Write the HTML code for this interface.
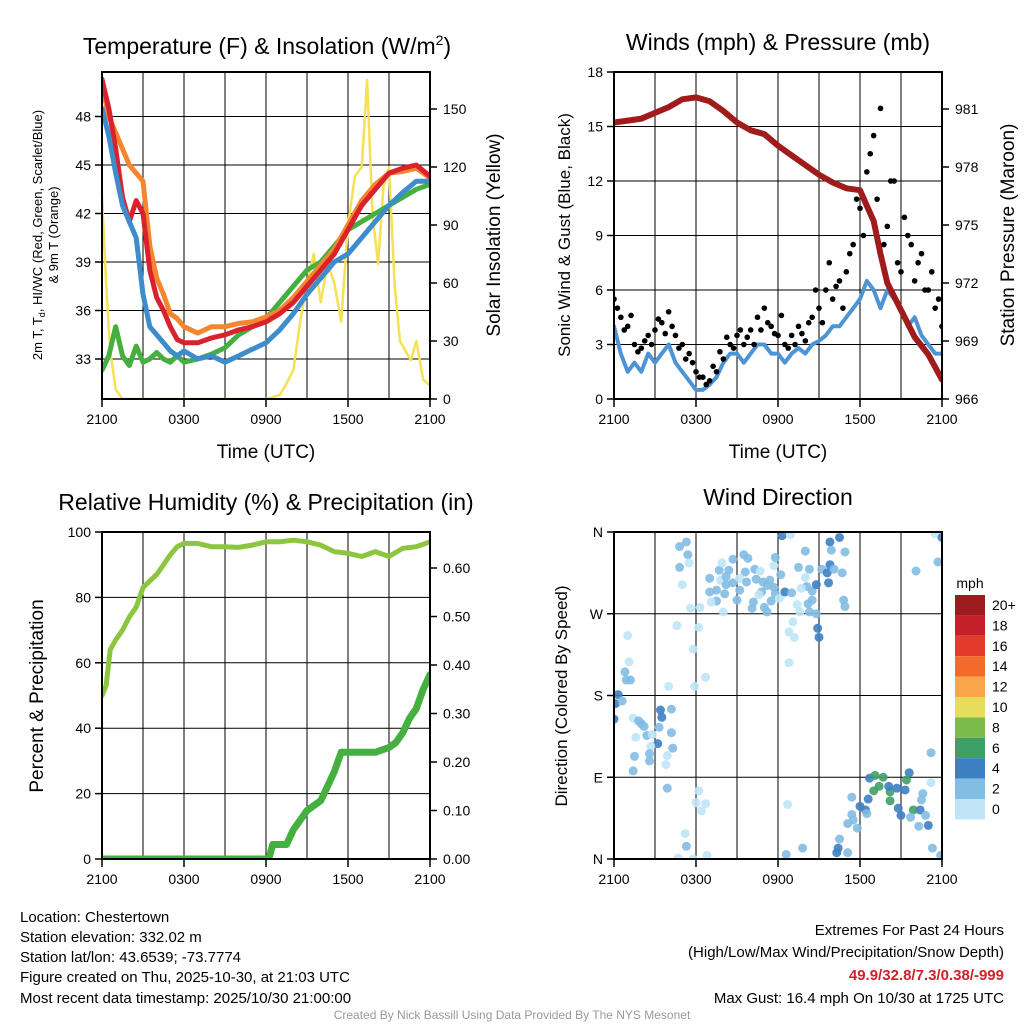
<!DOCTYPE html>
<html><head><meta charset="utf-8"><style>
body{margin:0;background:#fff;}
svg text{font-family:"Liberation Sans",sans-serif;fill:#000;}
</style></head><body>
<svg id="s" width="1024" height="1024" viewBox="0 0 1024 1024" xmlns="http://www.w3.org/2000/svg">
<defs>
<clipPath id="c1"><rect x="102" y="72" width="328" height="327"/></clipPath>
<clipPath id="c2"><rect x="614" y="72" width="328" height="327"/></clipPath>
<clipPath id="c3"><rect x="102" y="532" width="328" height="327"/></clipPath>
<clipPath id="c4"><rect x="614" y="532" width="328" height="327"/></clipPath>
</defs>
<rect width="1024" height="1024" fill="#fff"/>
<g id="grid"></g>
<g id="marks"></g>
<g id="axes"></g>
<text x="267" y="54" font-size="23" text-anchor="middle">Temperature (F) &amp; Insolation (W/m<tspan font-size="14" dy="-9">2</tspan><tspan dy="9">)</tspan></text>
<text x="778" y="50" font-size="23" text-anchor="middle">Winds (mph) &amp; Pressure (mb)</text>
<text x="266" y="510" font-size="23" text-anchor="middle">Relative Humidity (%) &amp; Precipitation (in)</text>
<text x="778" y="505" font-size="23" text-anchor="middle">Wind Direction</text>
<text x="266" y="458" font-size="19" text-anchor="middle">Time (UTC)</text>
<text x="778" y="458" font-size="19" text-anchor="middle">Time (UTC)</text>
<g transform="translate(42,235) rotate(-90)">
<text x="0" y="0" font-size="13" text-anchor="middle">2m T, T<tspan font-size="9" dy="3">d</tspan><tspan dy="-3">, HI/WC (Red, Green, Scarlet/Blue)</tspan></text>
<text x="0" y="16" font-size="13" text-anchor="middle">&amp; 9m T (Orange)</text></g>
<text transform="translate(500,235) rotate(-90)" font-size="19" text-anchor="middle">Solar Insolation (Yellow)</text>
<text transform="translate(570,235) rotate(-90)" font-size="17" text-anchor="middle">Sonic Wind &amp; Gust (Blue, Black)</text>
<text transform="translate(1014,235) rotate(-90)" font-size="19" text-anchor="middle">Station Pressure (Maroon)</text>
<text transform="translate(43,696) rotate(-90)" font-size="19" text-anchor="middle">Percent &amp; Precipitation</text>
<text transform="translate(567,696) rotate(-90)" font-size="17" text-anchor="middle">Direction (Colored By Speed)</text>
<text x="970" y="588" font-size="14" text-anchor="middle">mph</text>
<g id="cbar"></g>
<g font-size="15">
<text x="20" y="922">Location: Chestertown</text>
<text x="20" y="942">Station elevation: 332.02 m</text>
<text x="20" y="962">Station lat/lon: 43.6539; -73.7774</text>
<text x="20" y="982">Figure created on Thu, 2025-10-30, at 21:03 UTC</text>
<text x="20" y="1003">Most recent data timestamp: 2025/10/30 21:00:00</text>
</g>
<g font-size="15" text-anchor="end">
<text x="1004" y="935">Extremes For Past 24 Hours</text>
<text x="1004" y="957">(High/Low/Max Wind/Precipitation/Snow Depth)</text>
<text x="1004" y="980" font-weight="bold" style="fill:#d0202a">49.9/32.8/7.3/0.38/-999</text>
<text x="1004" y="1003">Max Gust: 16.4 mph On 10/30 at 1725 UTC</text>
</g>
<text x="512" y="1019" font-size="12" text-anchor="middle" style="fill:#999">Created By Nick Bassill Using Data Provided By The NYS Mesonet</text>
</svg>
<script>
// ---- data ----
var hT = [0,0.5,1,1.5,2,2.5,3,3.5,4,4.5,5,5.5,6,7,8,9,10,11,12,13,14,15,16,17,18,19,20,21,22,23,24];
var tempRed = [50.3,48.5,46,43,41.5,42.8,42,38.5,36.8,36,35,34.2,34,34,34.3,34.5,34.8,35,35.3,35.8,36.5,37.5,38.5,39.5,41,42.5,43.5,44.5,44.8,45,44.3];
var tempOrange = [50,48,47,46,45,44.5,44,40,38,37,35.8,35.5,35,34.6,35,35,35.2,35.3,35.6,36,36.8,37.8,38.8,39.8,41.3,42.8,43.8,44.5,44.6,44.8,44.2];
var tempBlue = [48.5,46.8,44.5,42.5,41.5,40.5,37,35,34.5,34,33.5,33.2,33.5,33,33.2,32.8,33.2,33.6,34,34.8,35.8,37,38,39,39.5,40.5,41.5,42.5,43.3,44,44];
var tempGreen = [32.3,33.2,35,33.2,32.6,33.8,32.8,33,33.4,33,32.8,33.2,32.8,33,33.3,33.7,34.5,35,35.5,36.5,37.5,38.5,39,40,41,41.5,42,42.5,43,43.5,43.8];
var hSun = [0,0.3,0.6,1,1.5,2,6,12,13,13.5,14,14.5,15,15.5,16,16.5,17,17.5,18,18.5,19,19.4,19.8,20.2,20.6,21,21.4,21.8,22.2,22.6,23,23.5,24];
var sunVals = [105,60,25,5,0,0,0,0,2,8,15,40,60,75,50,70,60,40,90,115,120,165,95,70,110,120,60,30,25,20,30,10,7];
var hHalf = [0,0.5,1,1.5,2,2.5,3,3.5,4,4.5,5,5.5,6,6.5,7,7.5,8,8.5,9,9.5,10,10.5,11,11.5,12,12.5,13,13.5,14,14.5,15,15.5,16,16.5,17,17.5,18,18.5,19,19.5,20,20.5,21,21.5,22,22.5,23,23.5,24];
var windVals = [4,2.5,1.5,2,1.5,2.5,2,2.5,3,2,1.5,1,0.5,0.5,0.8,1.2,2,2.5,2.5,2,2.5,3,3,2.5,2.5,2,2.5,2.8,2.5,3,3.2,3.5,4,4,4.5,5,5.5,6.5,6,5,6,5.5,5,4,4.5,3.5,3,2.5,2.5];
var gustVals = [5.5,4.5,4.0,3.0,2.8,3.5,3.8,4.2,4.8,3.5,3.0,2.5,1.5,1.2,1.0,1.5,2.2,3.0,3.5,3.0,3.8,4.5,5.0,4.0,3.5,3.0,3.5,4.0,3.2,4.5,5.0,6.0,5.5,6.5,7.0,8.5,10.5,12.5,14.5,16.0,9.5,12.0,7.0,9.0,6.5,8.0,6.0,5.0,4.0];
var gustVals2 = [5.0,3.8,4.6,2.6,3.2,3.0,4.4,3.6,4.0,2.8,2.2,2.0,1.2,0.8,1.8,2.6,3.4,2.8,3.8,3.4,3.0,3.8,4.2,3.6,4.6,2.8,3.0,3.6,4.2,6.0,4.2,7.5,6.2,5.0,8.0,11.0,9.0,13.5,11.0,8.5,12.0,7.5,10.0,8.5,7.5,6.0,7.0,5.5,3.5];
var hPres = [0,1,2,3,4,5,6,7,8,9,10,11,12,13,14,15,16,17,18,18.5,19,19.5,20,21,22,23,24];
var presVals = [980.3,980.4,980.5,980.8,981.1,981.5,981.6,981.4,980.9,980.3,979.9,979.7,979.1,978.6,978.1,977.6,977.2,976.9,976.8,976.0,975.2,973.5,972.0,970.6,969.2,968.3,967.0];
var hRH = [0,0.3,0.6,1,1.5,2,2.5,3,3.5,4,4.5,5,5.5,6,7,8,9,10,11,12,13,14,15,16,17,18,19,20,21,22,23,24];
var rhVals = [50,53,64,67,70,74,77,83,85,87,90,93,95.5,96.5,96.5,95.5,95.5,95.3,96,97,97,97.5,97,96,94,93.5,92.5,94,92.5,95,95.5,97];
var hPcp = [0,12.2,12.5,13.5,14,14.5,15,15.5,16,16.5,17,17.5,18,19,20,21,21.5,22,22.5,23,23.5,24];
var pcpVals = [0,0,0.03,0.03,0.06,0.08,0.1,0.11,0.12,0.15,0.18,0.22,0.22,0.22,0.22,0.23,0.24,0.26,0.29,0.31,0.35,0.38];
var dirHour = [4.8,5.3,5.4,5.5,4.8,5.0,5.6,6.3,4.6,6.2,5.8,6.7,5.9,4.0,1.0,1.1,0.8,0.9,1.2,0.3,0.1,0.0,0.6,1.4,2.0,1.8,2.2,1.6,3.4,3.5,4.2,3.3,4.2,2.4,2.8,3.2,2.7,4.3,2.6,2.6,1.5,3.9,3.8,1.4,3.9,6.2,6.0,6.7,6.4,5.2,5.3,4.7,5.8,6.8,12.7,12.6,13.8,
7.0,7.8,7.7,7.9,8.7,9.5,9.8,9.6,8.4,8.2,8.2,8.7,7.0,7.5,8.1,7.5,7.1,8.0,9.2,9.0,9.2,10.3,10.7,10.4,10.9,11.4,11.2,11.7,9.7,10.8,10.6,10.2,10.1,11.0,11.2,11.5,11.8,12.1,12.5,13.0,11.7,11.8,12.2,12.3,12.9,14.0,13.5,14.0,14.3,14.1,13.7,14.5,13.4,14.2,14.5,13.6,14.3,14.8,13.1,12.8,13.2,12.8,14.9,15.0,14.8,15.2,15.6,15.7,15.8,16.1,16.7,15.8,16.5,15.9,16.9,16.8,16.9,22.1,23.5,24.0,23.7,23.2,23.2,
18.7,19.1,19.7,19.0,19.4,20.2,20.2,20.1,20.7,21.3,21.6,21.4,21.9,22.4,20.8,21.0,21.7,22.6,22.5,22.8,23.0,22.3,23.3,23.9,17.4,18.6,18.0,18.4,18.5,17.4,17.5,17.8,17.1,16.5,16.4,16.3,17.1];
var dirDeg = [344,349,335,326,321,302,276,277,257,255,231,200,190,190,246,217,206,197,197,181,171,154,174,155,149,152,146,134,164,156,165,145,139,136,137,127,124,122,116,108,113,114,104,97,78,75,62,61,53,28,14,1,0,4,60,5,12,
309,307,318,326,330,335,331,316,318,311,302,304,294,296,292,284,283,272,296,285,309,319,317,308,305,307,301,299,305,294,291,283,276,277,272,284,292,287,294,293,323,332,313,356,357,339,321,310,319,300,298,295,280,281,285,272,272,270,261,250,244,216,254,244,302,319,315,304,324,319,315,349,354,340,338,285,278,317,358,354,327,117,84,
89,92,90,75,80,74,64,80,78,76,95,87,54,54,56,48,46,72,65,48,37,36,12,4,68,66,58,54,50,49,43,34,39,22,12,7,7];
var dirSpd = [3,3,3,1,3,1,1,1,1,1,1,1,1,1,1,1,3,3,3,4,4,4,3,1,3,3,3,1,4,4,3,3,3,3,1,4,1,3,3,3,3,1,1,3,3,1,1,1,1,1,3,1,1,1,1,3,3,
3,1,3,1,3,3,3,3,3,3,3,3,3,3,3,3,1,1,3,3,1,3,1,3,3,3,3,3,3,3,1,3,3,3,3,3,3,1,4,3,1,3,3,4,1,3,3,1,3,3,1,3,1,3,3,1,3,3,1,1,1,1,4,4,4,3,4,4,4,3,3,4,4,3,3,3,3,3,1,4,3,3,1,
4,6,6,6,6,6,6,4,4,4,4,6,6,4,4,4,3,3,3,3,4,3,3,3,3,4,4,4,3,3,3,3,3,3,4,4,3];
var cbLabels = ["20+","18","16","14","12","10","8","6","4","2","0"];
var cbColors = ["#9b1b1e","#c5202a","#e23a2c","#f26a2c","#f9a64a","#e6dd5d","#7cba4a","#3fa067","#3d80c2","#82bde3","#bfe5f7"];
var p1Left = [33,36,39,42,45,48];
var p1Right = [0,30,60,90,120,150];
var p2Left = [0,3,6,9,12,15,18];
var p2Right = [966,969,972,975,978,981];
var p3Left = [0,20,40,60,80,100];
var p3Right = [0,0.1,0.2,0.3,0.4,0.5,0.6];
var dirTicks = ["N","E","S","W","N"];
var timeLabels = ["2100","0300","0900","1500","2100"];

// ---- scales ----
var NS="http://www.w3.org/2000/svg";
function X1(h){return 102+h*328/24;}
function X2(h){return 614+h*328/24;}
function y1L(v){return 359-(v-33)*48.5/3;}
function y1R(v){return 399-v*58/30;}
function y2L(v){return 399-v*327/18;}
function y2R(p){return 399-(p-966)*58/3;}
function y3L(v){return 859-v*3.27;}
function y3R(v){return 859-v*485;}
function y4(d){return 859-d*327/360;}
function speedColor(s){var i=Math.max(0,Math.min(10,Math.floor(s/2)));return cbColors[10-i];}
function mk(parent,tag,attrs){var e=document.createElementNS(NS,tag);for(var k in attrs)e.setAttribute(k,attrs[k]);parent.appendChild(e);return e;}
var G=document.getElementById('grid'),M=document.getElementById('marks'),A=document.getElementById('axes'),CB=document.getElementById('cbar');

function pathD(xs,ys,fx,fy){var d="";for(var i=0;i<xs.length;i++){d+=(i?"L":"M")+fx(xs[i]).toFixed(1)+","+fy(ys[i]).toFixed(1);}return d;}
function line(xs,ys,fx,fy,col,w,clip,name){
  var p=mk(M,'path',{d:pathD(xs,ys,fx,fy),fill:'none',stroke:col,'stroke-width':w,'stroke-linejoin':'round','stroke-linecap':'round','clip-path':'url(#'+clip+')'});
  
  
}
function panel(x0,y0,name,clip,leftVals,fyL,leftFmt,rightVals,fyR,rightFmt,hLines){
  var fx=function(h){return x0+h*328/24;};
  for(var h=3;h<24;h+=3){var l=mk(G,'line',{x1:fx(h),x2:fx(h),y1:y0,y2:y0+327,stroke:'#000','stroke-width':1});
    
    }
  hLines.forEach(function(y){var l=mk(G,'line',{x1:x0,x2:x0+328,y1:y,y2:y,stroke:'#000','stroke-width':1});
    
    });
  var r=mk(A,'rect',{x:x0,y:y0,width:328,height:327,fill:'none',stroke:'#000','stroke-width':2});
  
  
  for(var i=0;i<5;i++){var xx=fx(i*6);
    mk(A,'line',{x1:xx,x2:xx,y1:y0+327,y2:y0+335,stroke:'#000','stroke-width':1.5});
    var t=mk(A,'text',{x:xx,y:y0+352,'font-size':14,'text-anchor':'middle'});t.textContent=timeLabels[i];
    
    }
  leftVals.forEach(function(v){var y=fyL(v);
    mk(A,'line',{x1:x0-7,x2:x0,y1:y,y2:y,stroke:'#000','stroke-width':1.5});
    var t=mk(A,'text',{x:x0-11,y:y+5,'font-size':14,'text-anchor':'end'});t.textContent=leftFmt(v);
    
    });
  if(rightVals)rightVals.forEach(function(v){var y=fyR(v);
    mk(A,'line',{x1:x0+328,x2:x0+335,y1:y,y2:y,stroke:'#000','stroke-width':1.5});
    var t=mk(A,'text',{x:x0+341,y:y+5,'font-size':14,'text-anchor':'start'});t.textContent=rightFmt(v);
    
    });
}
var id=function(v){return String(v);};
panel(102,72,'temp-panel','c1',p1Left,y1L,id,p1Right,y1R,id,p1Left.map(y1L));
panel(614,72,'wind-panel','c2',p2Left,y2L,id,p2Right,y2R,id,p2Left.map(y2L));
panel(102,532,'rh-panel','c3',p3Left,y3L,id,p3Right,y3R,function(v){return v.toFixed(2);},p3Left.map(y3L));
var dirVals=[0,90,180,270,360];
panel(614,532,'dir-panel','c4',[],y4,id,null,null,null,dirVals.map(y4));
dirVals.forEach(function(d,i){var y=y4(d);
  mk(A,'line',{x1:607,x2:614,y1:y,y2:y,stroke:'#000','stroke-width':1.5});
  var t=mk(A,'text',{x:603,y:y+5,'font-size':14,'text-anchor':'end'});t.textContent=dirTicks[i];
  
  });

// ---- series ----
line(hSun,sunVals,X1,y1R,'#f5e153',2.5,'c1','insolation-line');
line(hT,tempGreen,X1,y1L,'#45b03f',5,'c1','dewpoint-line');
line(hT,tempOrange,X1,y1L,'#f5862f',5,'c1','temp-9m-line');
line(hT,tempRed,X1,y1L,'#d9222b',5,'c1','temp-2m-line');
line(hT,tempBlue,X1,y1L,'#3d8ccc',5,'c1','windchill-line');

line(hHalf,windVals,X2,y2L,'#4d94d6',4,'c2','wind-speed-line');
hHalf.forEach(function(h,i){
  var c=mk(M,'circle',{cx:X2(h),cy:y2L(gustVals[i]),r:2.8,fill:'#000','clip-path':'url(#c2)'});
  
  
  var c2=mk(M,'circle',{cx:X2(h+0.25),cy:y2L(gustVals2[i]),r:2.8,fill:'#000','clip-path':'url(#c2)'});
  
  
});
line(hPres,presVals,X2,y2R,'#a01c1c',6,'c2','pressure-line');

line(hRH,rhVals,X1,y3L,'#8cc540',5,'c3','rh-line');
line(hPcp,pcpVals,X1,y3R,'#45b03f',7,'c3','precip-line');

dirHour.forEach(function(h,i){
  var c=mk(M,'circle',{cx:X2(h),cy:y4(dirDeg[i]),r:4.5,fill:speedColor(dirSpd[i]),'fill-opacity':0.9,'clip-path':'url(#c4)'});
  
  
});

cbLabels.forEach(function(lab,i){
  var r=mk(CB,'rect',{x:955,y:595+i*20.4,width:30,height:20.4,fill:cbColors[i]});
  
  
  var t=mk(CB,'text',{x:992,y:595+i*20.4+15,'font-size':14});t.textContent=lab;
  
  
});
</script>
</body></html>
